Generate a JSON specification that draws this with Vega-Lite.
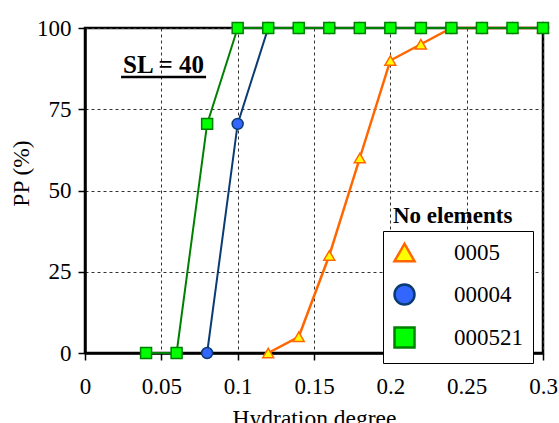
{
  "$schema": "https://vega.github.io/schema/vega-lite/v6.json",
  "width": 458,
  "height": 325,
  "autosize": "none",
  "padding": {"left": 85, "top": 28, "right": 16, "bottom": 70},
  "background": "white",
  "config": {
    "font": "Liberation Serif",
    "view": {"stroke": "black", "strokeWidth": 2.5},
    "axis": {
      "domainColor": "black", "domainWidth": 2.5,
      "tickColor": "black", "tickWidth": 1.5, "tickSize": 7,
      "gridColor": "#333333", "gridDash": [3, 3], "gridWidth": 1, "gridOpacity": 1,
      "labelFont": "Liberation Serif", "labelFontSize": 23, "labelColor": "black",
      "titleFont": "Liberation Serif", "titleFontSize": 23.5, "titleFontWeight": "normal", "titleColor": "black"
    },
    "legend": {
      "padding": 10, "rowPadding": 12, "symbolSize": 400, "labelOffset": 38,
      "symbolStrokeWidth": 2.5,
      "labelFont": "Liberation Serif", "labelFontSize": 23, "labelColor": "black",
      "strokeColor": "black", "fillColor": "white"
    }
  },
  "datasets": {
    "pp": [
      {"series": "0005", "x": 0.12, "y": 0},
      {"series": "0005", "x": 0.14, "y": 5},
      {"series": "0005", "x": 0.16, "y": 30},
      {"series": "0005", "x": 0.18, "y": 60},
      {"series": "0005", "x": 0.20, "y": 90},
      {"series": "0005", "x": 0.22, "y": 95},
      {"series": "0005", "x": 0.24, "y": 100},
      {"series": "0005", "x": 0.26, "y": 100},
      {"series": "0005", "x": 0.28, "y": 100},
      {"series": "0005", "x": 0.30, "y": 100},
      {"series": "00004", "x": 0.08, "y": 0},
      {"series": "00004", "x": 0.10, "y": 70.5},
      {"series": "00004", "x": 0.12, "y": 100},
      {"series": "00004", "x": 0.14, "y": 100},
      {"series": "00004", "x": 0.16, "y": 100},
      {"series": "00004", "x": 0.18, "y": 100},
      {"series": "00004", "x": 0.20, "y": 100},
      {"series": "00004", "x": 0.22, "y": 100},
      {"series": "00004", "x": 0.24, "y": 100},
      {"series": "00004", "x": 0.26, "y": 100},
      {"series": "00004", "x": 0.28, "y": 100},
      {"series": "00004", "x": 0.30, "y": 100},
      {"series": "000521", "x": 0.04, "y": 0},
      {"series": "000521", "x": 0.06, "y": 0},
      {"series": "000521", "x": 0.08, "y": 70.5},
      {"series": "000521", "x": 0.10, "y": 100},
      {"series": "000521", "x": 0.12, "y": 100},
      {"series": "000521", "x": 0.14, "y": 100},
      {"series": "000521", "x": 0.16, "y": 100},
      {"series": "000521", "x": 0.18, "y": 100},
      {"series": "000521", "x": 0.20, "y": 100},
      {"series": "000521", "x": 0.22, "y": 100},
      {"series": "000521", "x": 0.24, "y": 100},
      {"series": "000521", "x": 0.26, "y": 100},
      {"series": "000521", "x": 0.28, "y": 100},
      {"series": "000521", "x": 0.30, "y": 100}
    ],
    "note": [{"label": "SL = 40"}]
  },
  "layer": [
    {
      "data": {"name": "pp"},
      "encoding": {
        "x": {
          "field": "x", "type": "quantitative",
          "scale": {"domain": [0, 0.3], "nice": false, "zero": false},
          "axis": {
            "title": "Hydration degree", "values": [0, 0.05, 0.1, 0.15, 0.2, 0.25, 0.3],
            "format": "~g", "labelPadding": 15, "titleY": 72, "titleBaseline": "alphabetic",
            "labelFlush": false, "labelOverlap": false
          }
        },
        "y": {
          "field": "y", "type": "quantitative",
          "scale": {"domain": [0, 100], "nice": false},
          "axis": {
            "title": "PP (%)", "values": [0, 25, 50, 75, 100], "labelPadding": 7,
            "titleX": -56.5, "titleY": 145, "titleBaseline": "alphabetic", "titleAngle": -90,
            "labelFlush": false, "labelOverlap": false
          }
        }
      },
      "layer": [
        {
          "transform": [{"filter": "datum.series === '0005'"}],
          "mark": {"type": "line", "strokeWidth": 2.5, "color": "#FF6600"}
        },
        {
          "transform": [{"filter": "datum.series === '00004'"}],
          "mark": {"type": "line", "strokeWidth": 2, "color": "#0B3B73"}
        },
        {
          "transform": [{"filter": "datum.series === '000521'"}],
          "mark": {"type": "line", "strokeWidth": 2, "color": "#008000"}
        },
        {
          "mark": {"type": "point", "filled": false, "strokeWidth": 1.5, "opacity": 1, "size": 120},
          "encoding": {
            "stroke": {"field": "series", "type": "nominal",
              "scale": {"domain": ["0005", "00004", "000521"], "range": ["#FF6600", "#0B3B73", "#008000"]},
              "legend": {
                "title": null, "orient": "none", "legendX": 298, "legendY": 203,
                "encode": {
                  "symbols": {
                    "shape": {"value": {"expr": "datum.value === '0005' ? 'M0.3,0H1.98M2.62,0H4.3M2.3,-0.55L2.95,0.6L1.65,0.6Z' : datum.value === '00004' ? 'M0.3,0H1.7M2.9,0H4.3M1.7,0A0.6,0.6 0 1,1 2.9,0A0.6,0.6 0 1,1 1.7,0Z' : 'M0.3,0H1.8M2.8,0H4.3M1.8,-0.5H2.8V0.5H1.8Z'"}},
                    "size": {"value": 400},
                    "strokeWidth": {"value": 2.5},
                    "opacity": {"value": 1}
                  }
                }
              }},
            "fill": {"field": "series", "type": "nominal",
              "scale": {"domain": ["0005", "00004", "000521"], "range": ["#FFFF00", "#3366FF", "#00FF00"]},
              "legend": {
                "title": null, "orient": "none", "legendX": 298, "legendY": 203,
                "encode": {
                  "symbols": {
                    "shape": {"value": {"expr": "datum.value === '0005' ? 'M0.3,0H1.98M2.62,0H4.3M2.3,-0.55L2.95,0.6L1.65,0.6Z' : datum.value === '00004' ? 'M0.3,0H1.7M2.9,0H4.3M1.7,0A0.6,0.6 0 1,1 2.9,0A0.6,0.6 0 1,1 1.7,0Z' : 'M0.3,0H1.8M2.8,0H4.3M1.8,-0.5H2.8V0.5H1.8Z'"}},
                    "size": {"value": 400},
                    "strokeWidth": {"value": 2.5},
                    "opacity": {"value": 1}
                  }
                }
              }},
            "shape": {"field": "series", "type": "nominal",
              "scale": {"domain": ["0005", "00004", "000521"], "range": ["triangle-up", "circle", "square"]},
              "legend": {
                "title": null, "orient": "none", "legendX": 298, "legendY": 203,
                "encode": {
                  "symbols": {
                    "shape": {"value": {"expr": "datum.value === '0005' ? 'M0.3,0H1.98M2.62,0H4.3M2.3,-0.55L2.95,0.6L1.65,0.6Z' : datum.value === '00004' ? 'M0.3,0H1.7M2.9,0H4.3M1.7,0A0.6,0.6 0 1,1 2.9,0A0.6,0.6 0 1,1 1.7,0Z' : 'M0.3,0H1.8M2.8,0H4.3M1.8,-0.5H2.8V0.5H1.8Z'"}},
                    "size": {"value": 400},
                    "strokeWidth": {"value": 2.5},
                    "opacity": {"value": 1}
                  }
                }
              }}
          }
        }
      ]
    },
    {
      "data": {"name": "note"},
      "mark": {"type": "text", "font": "Liberation Serif", "fontSize": 25, "fontWeight": "bold", "align": "center", "baseline": "alphabetic", "color": "black"},
      "encoding": {"text": {"field": "label"}, "x": {"datum": 0.0514}, "y": {"datum": 86.15}}
    },
    {
      "data": {"name": "note"},
      "mark": {"type": "rule", "color": "black", "strokeWidth": 2.5},
      "encoding": {"x": {"datum": 0.0236}, "x2": {"datum": 0.0793}, "y": {"datum": 84.9}}
    },
    {
      "data": {"name": "note"},
      "mark": {"type": "text", "text": "No elements", "font": "Liberation Serif", "fontSize": 23, "fontWeight": "bold", "align": "left", "baseline": "alphabetic", "color": "black"},
      "encoding": {"x": {"datum": 0.2017}, "y": {"datum": 40}}
    }
  ]
}
